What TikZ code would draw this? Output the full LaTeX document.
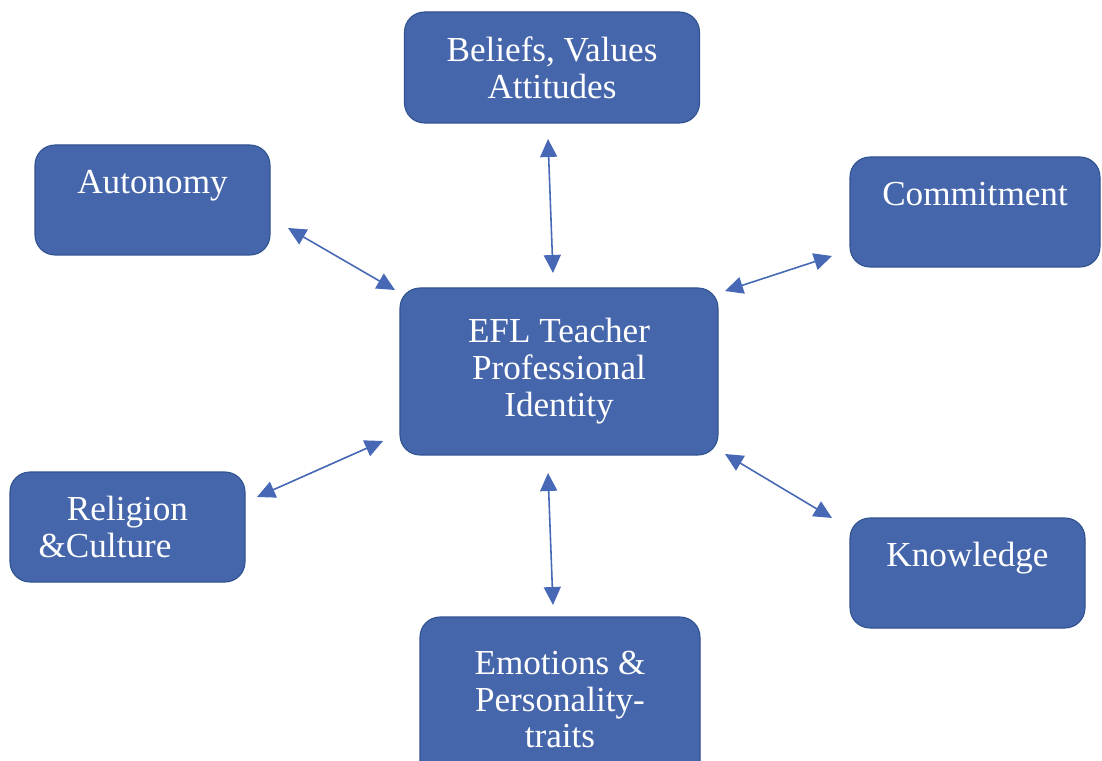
\documentclass[tikz,border=0pt]{standalone}
\usepackage{fontspec}
\setmainfont{Liberation Serif}
\usetikzlibrary{arrows.meta}

\definecolor{boxfill}{HTML}{4666AC}
\definecolor{boxline}{HTML}{2F528F}
\definecolor{linkblue}{HTML}{4668B5}

\begin{document}
\begin{tikzpicture}[
    box/.style={rectangle, rounded corners=0.4cm, fill=boxfill, draw=boxline, line width=0.6pt,
        text=white, align=center, outer sep=0pt, inner sep=2pt,
        font=\fontsize{20}{21}\selectfont},
    small box/.style={box, minimum width=4.7cm, minimum height=2.2cm},
    link/.style={draw=linkblue, line width=0.9pt,
        {Triangle[length=0.36cm, width=0.34cm]}-{Triangle[length=0.36cm, width=0.34cm]}}
]
    \useasboundingbox (0,0) rectangle (22.04,15.2);
    \clip (0,0) rectangle (22.04,15.2);

    \node[box, minimum width=6.36cm, minimum height=3.34cm] (cen) at (11.18,7.77)
        {EFL Teacher\\Professional\\Identity};
    \node[box, minimum width=5.9cm, minimum height=2.22cm] (bel) at (11.04,13.85)
        {Beliefs, Values\\Attitudes};
    \node[small box] (aut) at (3.05,11.2) {Autonomy\\\mbox{}};
    \node[small box, minimum width=5cm] (com) at (19.5,10.96) {Commitment\\\mbox{}};
    \node[small box] (rel) at (2.55,4.66) {Religion\\\&Culture\rule{0.9cm}{0pt}};
    \node[small box] (kno) at (19.35,3.74) {Knowledge\\\mbox{}};
    \node[box, minimum width=5.6cm, minimum height=3.3cm] (emo) at (11.2,1.21)
        {Emotions \&\\Personality-\\traits};

    \draw[link] ([shift={(0.36,-0.56)}]aut.east) -- ([shift={(-0.1,-0.04)}]cen.north west);
    \draw[link] ([shift={(-0.08,-0.32)}]bel.south) -- ([shift={(-0.12,0.3)}]cen.north);
    \draw[link] ([shift={(-0.36,-0.88)}]com.west) -- ([shift={(0.14,-0.06)}]cen.north east);
    \draw[link] ([shift={(0.24,0.6)}]rel.east) -- ([shift={(-0.34,0.28)}]cen.south west);
    \draw[link] ([shift={(-0.36,0)}]kno.north west) -- ([shift={(0.14,0.02)}]cen.south east);
    \draw[link] ([shift={(-0.14,0.24)}]emo.north) -- ([shift={(-0.22,-0.36)}]cen.south);

\end{tikzpicture}
\end{document}
